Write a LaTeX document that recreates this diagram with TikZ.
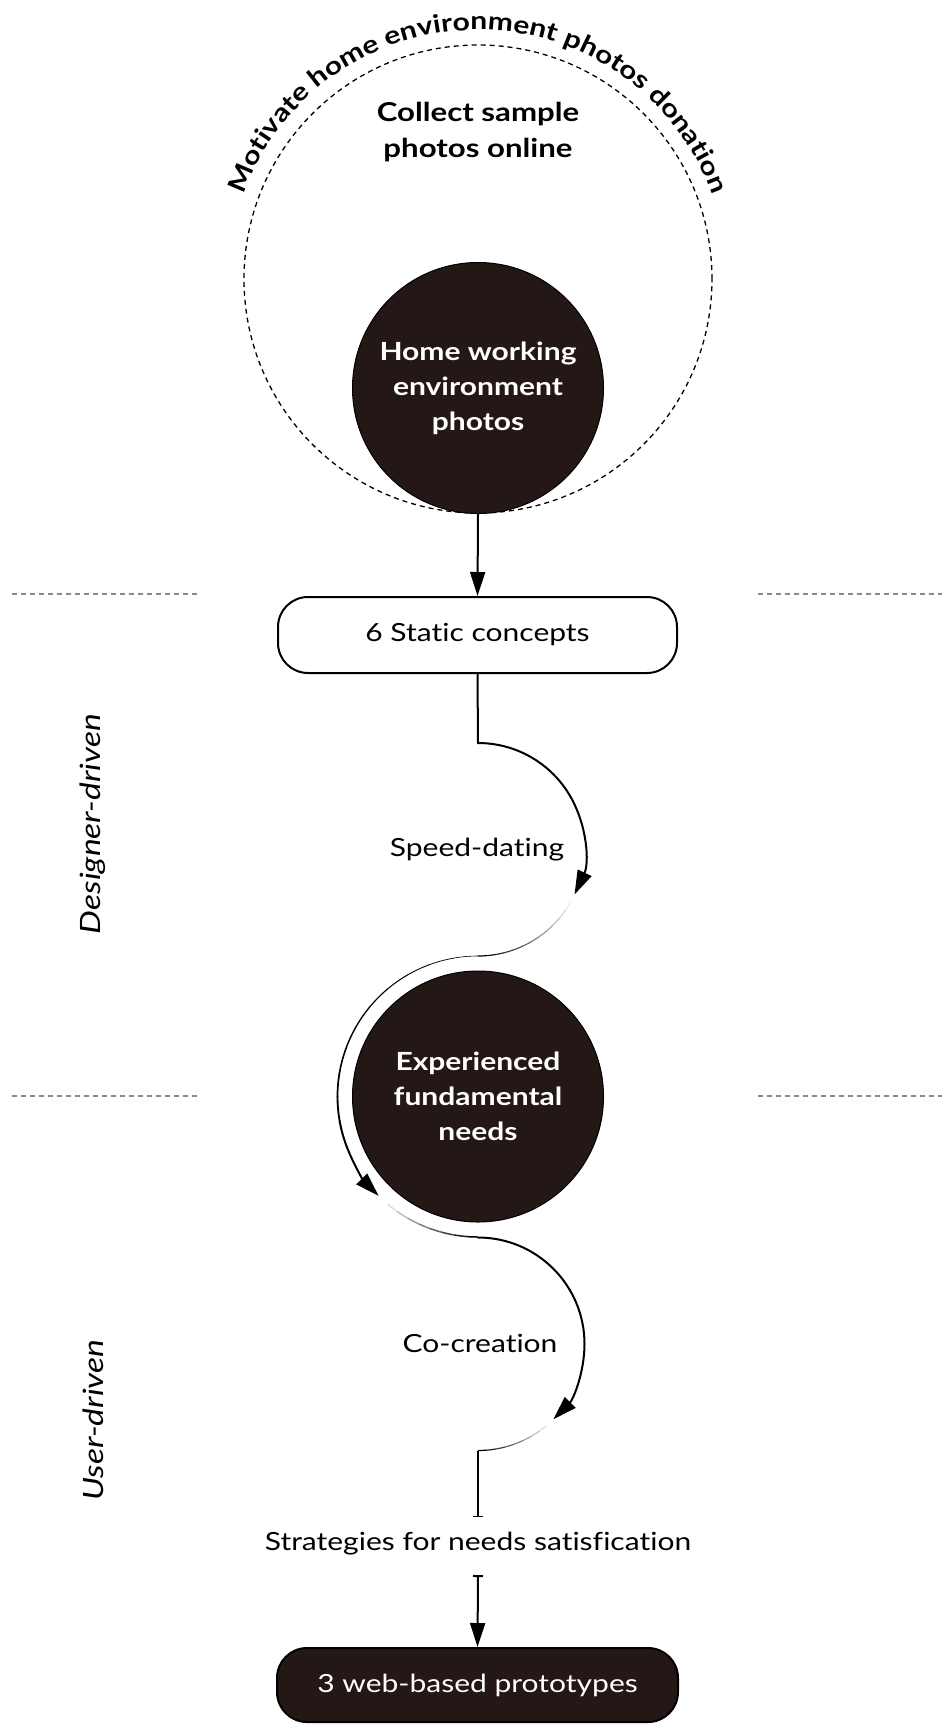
\documentclass[tikz,border=0pt]{standalone}
\usepackage{fontspec}
\setmainfont{Lato}[FakeStretch=1.2, Ligatures=NoCommon]
\usetikzlibrary{arrows.meta,decorations.text,calc}
\definecolor{ink}{HTML}{231815}
\definecolor{sepgray}{HTML}{8A8A8A}
\begin{document}
\begin{tikzpicture}[x=1pt,y=1pt,
  plain/.style={font=\fontsize{25}{30}\selectfont, inner sep=0pt},
  boldtxt/.style={font=\bfseries\fontsize{26}{36}\selectfont, align=center, inner sep=0pt},
  darkcirc/.style={circle, fill=ink, draw=black, line width=1pt, minimum size=251pt, text=white, font=\bfseries\fontsize{25}{35}\selectfont, align=center, inner sep=0pt},
  stepbox/.style={rounded corners=30pt, draw=black, line width=2pt, minimum width=399pt, minimum height=76pt, font=\fontsize{25}{30}\selectfont},
  tip/.style={-{Triangle[length=24pt,width=15pt]}},
  conn/.style={line width=2pt, tip},
  sepline/.style={sepgray, line width=1.1pt, dash pattern=on 5pt off 4pt},
  side/.style={font=\itshape\fontsize{28}{32}\selectfont, rotate=90, inner sep=0pt}
]
\useasboundingbox (0,0) rectangle (942,-1724);

% centres
\coordinate (c0) at (478,-279);
\coordinate (c1) at (478,-849.5);
\coordinate (c2) at (478,-1096.5);
\coordinate (c3) at (478,-1344);

% separators
\draw[sepline] (12,-594) -- (200,-594);
\draw[sepline] (758,-594) -- (942,-594);
\draw[sepline] (12,-1096) -- (200,-1096);
\draw[sepline] (758,-1096) -- (942,-1096);

% side labels
\node[side] (designer) at (93,-824) {Designer-driven};
\node[side] (user) at (93,-1420) {User-driven};

% dashed circle and curved text
\draw[line width=1.3pt, dash pattern=on 5pt off 4pt] (c0) circle (234);
\path[decorate, decoration={text along path, text align=center,
  text format delimiters={|}{|},
  text={|\bfseries\fontsize{25}{30}\selectfont|Motivate home environment photos donation}}]
  ($(c0)+(175:249)$) arc (175:5:249);

\node[boldtxt] (collect) at (478,-132) {Collect sample\\photos online};

\node[darkcirc] (photos) at (478,-388) {Home working\\environment\\photos};

\node[stepbox] (static) at (477.5,-635) {6 Static concepts};

\draw[conn] (photos.south) -- (static.north);

% Speed-dating arc
\draw[conn] (static.south) -- ($(c1)+(90:106.5)$) arc (90:-25:106.5);
\foreach \i in {0,...,12}{
  \pgfmathsetmacro{\aa}{-25-5*\i}
  \pgfmathsetmacro{\bb}{-30-5*\i}
  \pgfmathsetmacro{\pp}{100*\i/12}
  \draw[line width=1.2pt, draw=black!\pp] ($(c1)+(\aa:106.5)$) arc (\aa:\bb:106.5);
}
\node[plain] (speed) at (477,-850) {Speed-dating};

\node[darkcirc] (needs) at (478,-1096.5) {Experienced\\fundamental\\needs};

% left arc around needs
\foreach \i in {0,...,10}{
  \pgfmathsetmacro{\aa}{90+10*\i}
  \pgfmathsetmacro{\bb}{100+10*\i}
  \pgfmathsetmacro{\ww}{0.6+1.4*\i/10}
  \draw[line width=\ww pt, line cap=round] ($(c2)+(\aa:140.5)$) arc (\aa:\bb:140.5);
}
\draw[conn] ($(c2)+(200:140.5)$) arc (200:225:140.5);
\foreach \i in {0,...,8}{
  \pgfmathsetmacro{\aa}{225+5*\i}
  \pgfmathsetmacro{\bb}{230+5*\i}
  \pgfmathsetmacro{\pp}{100*\i/8}
  \draw[line width=1.5pt, draw=black!\pp] ($(c2)+(\aa:140.5)$) arc (\aa:\bb:140.5);
}

% Co-creation arc
\draw[conn] ($(c3)+(90:106.5)$) arc (90:-45:106.5);
\foreach \i in {0,...,8}{
  \pgfmathsetmacro{\aa}{-45-5*\i}
  \pgfmathsetmacro{\bb}{-50-5*\i}
  \pgfmathsetmacro{\pp}{100*\i/8}
  \draw[line width=1.2pt, draw=black!\pp] ($(c3)+(\aa:106.5)$) arc (\aa:\bb:106.5);
}
\node[plain] (cocreation) at (480,-1343) {Co-creation};

\coordinate (bar1) at (478,-1517);
\draw[line width=1.5pt, -{Bar[width=10pt]}] ($(c3)+(-90:106.5)$) -- (bar1);

\node[plain] (strategies) at (478,-1544) {Strategies for needs satisfication};

\coordinate (bar2) at (478,-1575);
\node[stepbox, fill=ink, text=white, minimum height=74pt, minimum width=401pt] (proto) at (477.5,-1685) {3 web-based prototypes};
\draw[line width=2pt, {Bar[width=10pt]}-{Triangle[length=24pt,width=15pt]}] (bar2) -- (proto.north);
\end{tikzpicture}
\end{document}
